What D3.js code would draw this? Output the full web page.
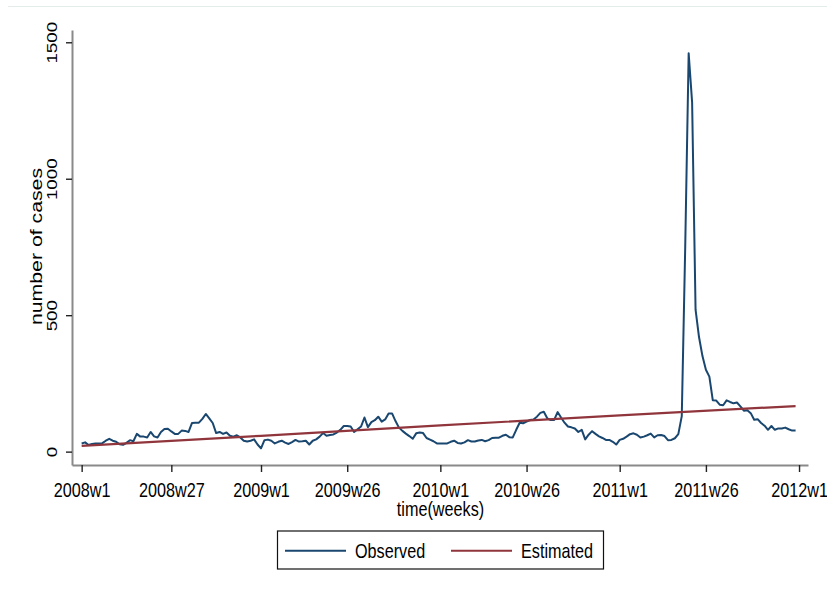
<!DOCTYPE html>
<html>
<head>
<meta charset="utf-8">
<script src="https://cdn.jsdelivr.net/npm/d3@7"></script>
<style>
  body { margin: 0; background: #fff; }
  svg { display: block; }
  text { font-family: "Liberation Sans", Arial, sans-serif; fill: #000; }
</style>
</head>
<body>
<svg id="chart" width="827" height="591"></svg>
<script>
// Weekly case counts, week 0 = 2008w1
const observed = [
  30, 34, 24, 28, 30, 30, 31, 40, 47, 40,
  36, 27, 25, 32, 42, 38, 65, 55, 55, 52,
  72, 56, 52, 72, 83, 84, 74, 65, 65, 77,
  76, 72, 105, 106, 106, 120, 138, 122, 105, 68,
  72, 65, 70, 58, 55, 60, 52, 40, 37, 40,
  45, 26, 12, 42, 44, 40, 30, 36, 40, 33,
  28, 35, 43, 37, 38, 40, 26, 40, 45, 55,
  68, 58, 61, 63, 70, 80, 94, 94, 92, 72,
  82, 92, 125, 90, 108, 115, 128, 110, 118, 140,
  140, 112, 88, 76, 66, 57, 47, 67, 70, 68,
  50, 44, 38, 30, 30, 30, 30, 36, 40, 32,
  30, 34, 42, 37, 37, 41, 43, 38, 42, 50,
  51, 51, 58, 62, 53, 52, 80, 106, 104, 110,
  116, 118, 128, 142, 146, 122, 116, 116, 145, 125,
  106, 92, 89, 85, 72, 80, 45, 62, 75, 65,
  56, 50, 43, 43, 36, 26, 43, 47, 55, 64,
  67, 62, 52, 55, 60, 66, 52, 60, 61, 57,
  42, 43, 49, 64, 130, 750, 1460, 1280, 520, 420,
  350, 300, 275, 188, 187, 172, 170, 188, 182, 177,
  180, 166, 150, 152, 141, 117, 119, 105, 95, 80,
  94, 80, 85, 85, 88, 82, 77, 77
];

// Fitted trend, read at yearly points
const estimatedWeeks = [0, 52, 104, 156, 207];
const estimatedValues = [21, 58, 96, 133, 167];

const tickWeeks = [0, 26, 52, 77, 104, 129, 156, 181, 208];
const tickLabels = ["2008w1", "2008w27", "2009w1", "2009w26", "2010w1",
                    "2010w26", "2011w1", "2011w26", "2012w1"];
const yTicks = [0, 500, 1000, 1500];

const seriesNames = ["Observed", "Estimated"];
const seriesColors = ["#1a476f", "#90353b"];

const svg = d3.select("#chart");

// faint frame line along the top
svg.append("line")
  .attr("x1", 8).attr("x2", 827).attr("y1", 6.5).attr("y2", 6.5)
  .attr("stroke", "#e3ebeb").attr("stroke-width", 1);

const x = d3.scaleLinear().domain([-2.8, 210.6]).range([72, 808]);
const y = d3.scaleLinear().domain([-49, 1545]).range([465, 30]);

const stretch = 1.22;

// X axis
const gx = svg.append("g")
  .attr("transform", "translate(0,465)")
  .call(d3.axisBottom(x).tickValues(tickWeeks)
    .tickFormat((d, i) => tickLabels[i]).tickSize(7).tickSizeOuter(0));
gx.select(".domain").attr("stroke", "#8a8a8a").attr("stroke-width", 2);
gx.selectAll(".tick line").attr("stroke", "#222").attr("stroke-width", 1.4);
gx.selectAll(".tick text")
  .attr("y", null).attr("dy", null)
  .attr("transform", `translate(0,32) scale(1,${stretch})`)
  .attr("font-size", "16.2px")
  .attr("font-family", '"Liberation Sans", Arial, sans-serif')
  .attr("fill", "#000");

// Y axis
const gy = svg.append("g")
  .attr("transform", "translate(72,0)")
  .call(d3.axisLeft(y).tickValues(yTicks).tickFormat(d3.format("d"))
    .tickSize(6).tickSizeOuter(0));
gy.select(".domain").attr("stroke", "#8a8a8a").attr("stroke-width", 2);
gy.selectAll(".tick line").attr("stroke", "#222").attr("stroke-width", 1.4);
gy.selectAll(".tick text")
  .attr("x", null).attr("dy", null)
  .attr("text-anchor", "middle")
  .attr("transform", `translate(-15.3,0) scale(1,1.25) rotate(-90)`)
  .attr("font-size", "15px")
  .attr("font-family", '"Liberation Sans", Arial, sans-serif')
  .attr("fill", "#000");

// Axis titles
svg.append("text")
  .attr("text-anchor", "middle")
  .attr("transform", `translate(440.5,516) scale(1,${stretch})`)
  .attr("font-size", "16.2px")
  .text("time(weeks)");

svg.append("text")
  .attr("text-anchor", "middle")
  .attr("transform", `translate(42,246.5) scale(1,1.25) rotate(-90)`)
  .attr("font-size", "17px")
  .text("number of cases");

// Series
const obsLine = d3.line()
  .x((d, i) => x(i))
  .y(d => y(d));

svg.append("path")
  .datum(observed)
  .attr("d", obsLine)
  .attr("fill", "none")
  .attr("stroke", seriesColors[0])
  .attr("stroke-width", 2)
  .attr("stroke-linejoin", "round");

const estLine = d3.line()
  .x((d, i) => x(estimatedWeeks[i]))
  .y(d => y(d));

svg.append("path")
  .datum(estimatedValues)
  .attr("d", estLine)
  .attr("fill", "none")
  .attr("stroke", seriesColors[1])
  .attr("stroke-width", 2.2);

// Legend
const legend = svg.append("g");
legend.append("rect")
  .attr("x", 277.5).attr("y", 531)
  .attr("width", 326).attr("height", 38)
  .attr("fill", "#fff").attr("stroke", "#111").attr("stroke-width", 1.2);

const legendItems = [
  { lx: 285, tx: 355 },
  { lx: 451, tx: 521 }
];
legendItems.forEach((p, i) => {
  legend.append("line")
    .attr("x1", p.lx).attr("x2", p.lx + 61)
    .attr("y1", 550.7).attr("y2", 550.7)
    .attr("stroke", seriesColors[i]).attr("stroke-width", 2);
  legend.append("text")
    .attr("transform", `translate(${p.tx},558) scale(1,${stretch})`)
    .attr("font-size", "16.2px")
    .text(seriesNames[i]);
});
</script>
</body>
</html>
